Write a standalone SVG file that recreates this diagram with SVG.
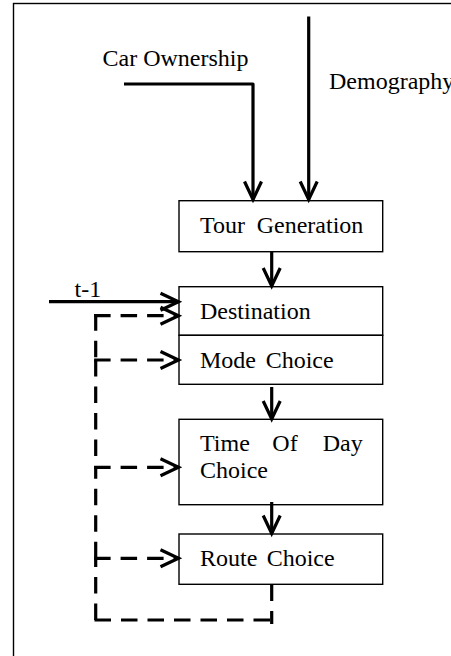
<svg xmlns="http://www.w3.org/2000/svg" width="451" height="656" viewBox="0 0 451 656">
  <style>
    .frame { fill: none; stroke: #000; stroke-width: 1.4; }
    .box { fill: #fff; stroke: #000; stroke-width: 1.4; }
    .lbl { font-family: "Liberation Serif", "Times New Roman", serif; font-size: 24px; fill: #000; }
    .flow { fill: none; stroke: #000; stroke-width: 3.2; stroke-linejoin: round; }
    .dash { fill: none; stroke: #000; stroke-width: 3.2; stroke-dasharray: 16.5 10; }
  </style>
  <defs>
    <marker id="head" markerUnits="userSpaceOnUse" viewBox="-20 -10 22 20" refX="0" refY="0" markerWidth="22" markerHeight="20" orient="auto" overflow="visible">
      <path d="M -18 -8.5 L 0 0 L -18 8.5" fill="none" stroke="#000" stroke-width="3.2" stroke-linejoin="miter"/>
    </marker>
  </defs>

  <rect class="frame" x="13.5" y="3.5" width="460" height="680"/>

  <g id="car-ownership">
    <text class="lbl" x="102.5" y="66">Car Ownership</text>
  </g>
  <g id="demography">
    <text class="lbl" x="329" y="89">Demography</text>
  </g>
  <g id="t-minus-1">
    <text class="lbl" x="74.5" y="296.5">t-1</text>
  </g>

  <g id="tour-generation">
    <rect class="box" x="179" y="200.7" width="203.7" height="51"/>
    <text class="lbl" y="232.7"><tspan x="200">Tour</tspan><tspan x="256.7">Generation</tspan></text>
  </g>
  <g id="destination">
    <rect class="box" x="179" y="286.7" width="203.7" height="48.6"/>
    <text class="lbl" x="200" y="319.3">Destination</text>
  </g>
  <g id="mode-choice">
    <rect class="box" x="179" y="335.3" width="203.7" height="49"/>
    <text class="lbl" y="368.3"><tspan x="200">Mode</tspan><tspan x="265.7">Choice</tspan></text>
  </g>
  <g id="time-of-day-choice">
    <rect class="box" x="179" y="419.3" width="203.7" height="85.4"/>
    <text class="lbl" y="451"><tspan x="200">Time</tspan><tspan x="272.3">Of</tspan><tspan x="322.7">Day</tspan></text>
    <text class="lbl" x="200" y="478.3">Choice</text>
  </g>
  <g id="route-choice">
    <rect class="box" x="179" y="534" width="203.7" height="50.3"/>
    <text class="lbl" y="566"><tspan x="200">Route</tspan><tspan x="266.7">Choice</tspan></text>
  </g>

  <g id="connectors">
    <!-- inputs -->
    <path class="flow" d="M 124 84 H 253 V 199.5" marker-end="url(#head)"/>
    <path class="flow" d="M 308.7 16.5 V 199.5" marker-end="url(#head)"/>
    <path class="flow" d="M 49 301.7 H 178.5" marker-end="url(#head)"/>
    <!-- sequence -->
    <path class="flow" d="M 271.7 252 V 286" marker-end="url(#head)"/>
    <path class="flow" d="M 271.7 387 V 419" marker-end="url(#head)"/>
    <path class="flow" d="M 271.7 502 V 533.5" marker-end="url(#head)"/>
    <!-- feedback loop -->
    <path class="dash" d="M 271.7 584.5 V 624"/>
    <path class="dash" d="M 94.5 620 H 271.7"/>
    <path class="dash" d="M 95.7 620 V 558.3"/>
    <path class="dash" d="M 95.7 558.3 V 467.3"/>
    <path class="dash" d="M 95.7 360 V 467.3"/>
    <path class="dash" d="M 95.7 314.2 V 360"/>
    <path class="dash" d="M 94.1 315.7 H 178.5" marker-end="url(#head)"/>
    <path class="dash" d="M 94.1 360 H 178.5" marker-end="url(#head)"/>
    <path class="dash" d="M 94.1 467.3 H 178.5" marker-end="url(#head)"/>
    <path class="dash" d="M 94.1 558.3 H 178.5" marker-end="url(#head)"/>
  </g>
</svg>
